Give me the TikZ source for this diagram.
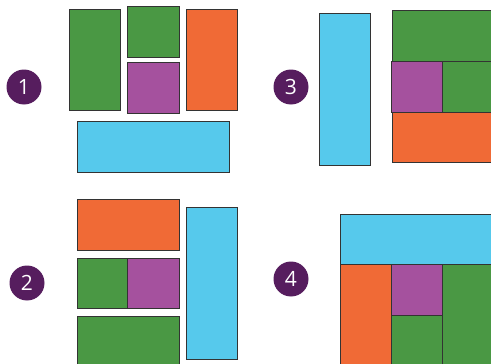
\documentclass[tikz,border=0pt]{standalone}
\usepackage{fontspec}
\setmainfont{Open Sans}
\usepackage{tikz}
\usetikzlibrary{positioning}
\definecolor{TileGreen}{HTML}{4A9844}
\definecolor{TilePurple}{HTML}{A5519E}
\definecolor{TileOrange}{HTML}{F06A36}
\definecolor{TileCyan}{HTML}{56C9EC}
\definecolor{BadgePlum}{HTML}{561D5E}
\definecolor{EdgeGray}{HTML}{333333}

\begin{document}
\begin{tikzpicture}[
  x=1pt,y=-1pt,
  tile/.style={draw=EdgeGray,line width=0.9pt,fill=#1},
  badge/.style={circle,fill=BadgePlum,minimum size=35pt,inner sep=0pt,text=white,font=\fontsize{21}{21}\selectfont}
]
\useasboundingbox (0,0) rectangle (491,364);
\clip (0,0) rectangle (491,364);
% panel 1
\node[badge] (n1) at (24,87) {1};
\draw[tile=TileGreen] (69,9) rectangle (120,110);
\draw[tile=TileGreen] (127,6) rectangle (179,57);
\draw[tile=TilePurple] (127,62) rectangle (179,113);
\draw[tile=TileOrange] (186,9) rectangle (237,110);
\draw[tile=TileCyan] (77,121) rectangle (229,172);
% panel 3
\node[badge] (n3) at (291,87) {3};
\draw[tile=TileCyan] (319,13) rectangle (370,165);
\draw[tile=TileGreen] (392,10) rectangle (500,61);
\draw[tile=TilePurple] (391,61) rectangle (442,112);
\draw[tile=TileGreen] (442,61) rectangle (500,112);
\draw[tile=TileOrange] (392,112) rectangle (500,162);
% panel 2
\node[badge] (n2) at (27,283) {2};
\draw[tile=TileOrange] (77,199) rectangle (179,250);
\draw[tile=TileGreen] (77,258) rectangle (127,308);
\draw[tile=TilePurple] (127,258) rectangle (179,308);
\draw[tile=TileGreen] (77,316) rectangle (179,370);
\draw[tile=TileCyan] (186,207) rectangle (237,359);
% panel 4
\node[badge] (n4) at (291,279) {4};
\draw[tile=TileCyan] (340,214) rectangle (500,264);
\draw[tile=TileOrange] (340,264) rectangle (391,370);
\draw[tile=TilePurple] (391,264) rectangle (442,315);
\draw[tile=TileGreen] (391,315) rectangle (442,370);
\draw[tile=TileGreen] (442,264) rectangle (500,370);
\end{tikzpicture}
\end{document}
